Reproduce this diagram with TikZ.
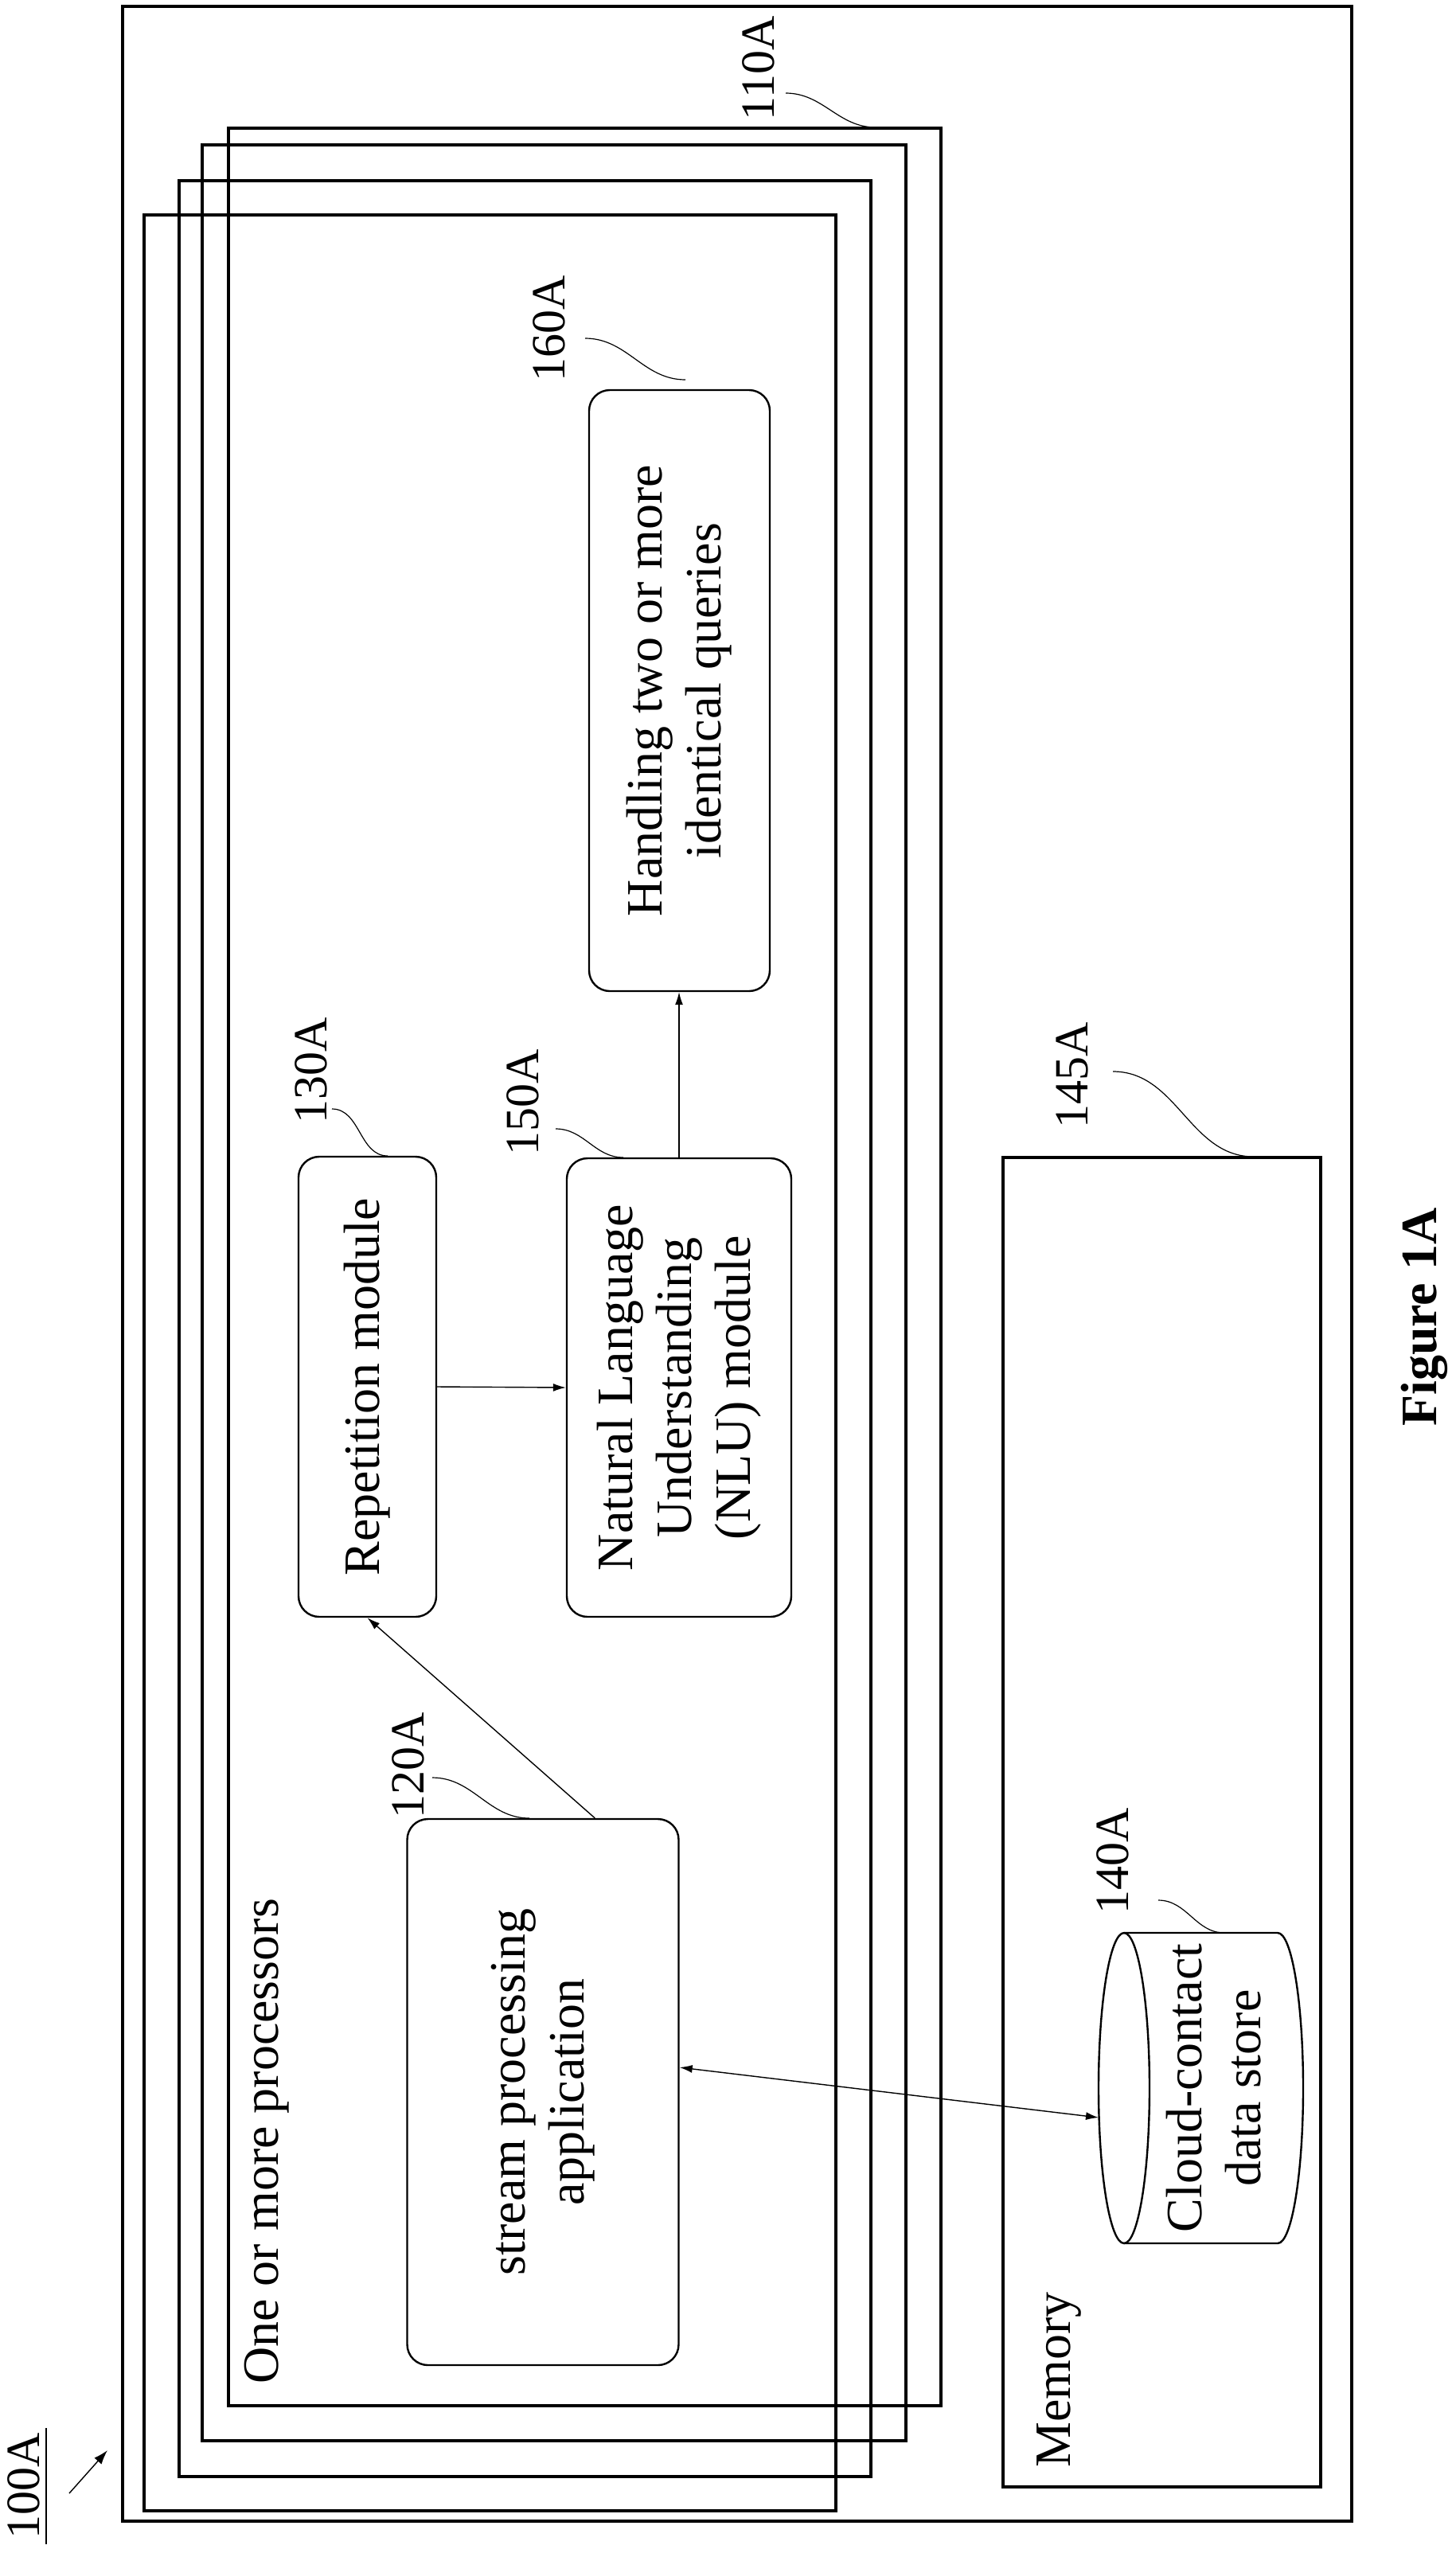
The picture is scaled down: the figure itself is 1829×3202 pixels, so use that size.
\documentclass[tikz,border=0pt]{standalone}
\usepackage{fontspec}
\setmainfont{Liberation Serif}
\usetikzlibrary{arrows.meta,calc}
\begin{document}
\begin{tikzpicture}[x=0.5pt,y=-0.5pt,
  frame/.style={draw,line width=1.6pt},
  rbox/.style={draw,line width=1.2pt,rounded corners=13pt,inner sep=0pt},
  txt/.style={rotate=90,align=center,font=\fontsize{32}{37}\selectfont},
  lbl/.style={rotate=90,anchor=west,inner sep=0pt,font=\fontsize{30}{34}\selectfont},
  squig/.style={line width=0.6pt},
  arr/.style={line width=0.7pt,-{Latex[length=8pt,width=5pt]}},
  darr/.style={line width=0.7pt,{Latex[length=8pt,width=5pt]}-{Latex[length=8pt,width=5pt]}}]
\useasboundingbox (0,0) rectangle (1829,3202);
% outer frame
\draw[frame] (154,8) rectangle (1698,3167);
% stacked processor boxes
\draw[frame] (181,270) rectangle (1050,3154);
\draw[frame] (225,227) rectangle (1094,3111);
\draw[frame] (254,182) rectangle (1138,3066);
\draw[frame] (287,161) rectangle (1182,3022);
% memory box
\node[frame,minimum width=199.5pt,minimum height=835pt,inner sep=0pt] (mem) at (1459.5,2289) {};
% nodes
\node[rbox,minimum width=86.5pt,minimum height=289pt] (rep) at (461.5,1742) {};
\node[txt] (reptxt) at (rep) {Repetition module};
\node[rbox,minimum width=141pt,minimum height=288pt] (nlu) at (853,1743) {};
\node[txt] (nlutxt) at (nlu) {Natural Language\\Understanding\\(NLU) module};
\node[rbox,minimum width=113.5pt,minimum height=377.5pt] (hand) at (853.5,867.5) {};
\node[txt] (handtxt) at (hand) {Handling two or more\\identical queries};
\node[rbox,minimum width=170.5pt,minimum height=343pt] (stream) at (682,2628) {};
\node[txt] (streamtxt) at (stream) {stream processing\\application};
% cylinder
\draw[line width=1.2pt] (1412,2428) -- (1605,2428) arc[start angle=90,end angle=-90,x radius=16pt,y radius=97.5pt] -- (1412,2818);
\draw[line width=1.2pt] (1412,2623) ellipse[x radius=16pt,y radius=97.5pt];
\node[txt,inner sep=0pt] (cyl) at (1525,2623) {Cloud-contact\\data store};
\coordinate (cylw) at (1380,2660);
% connectors
\draw[arr] ($(stream.north west)!0.69!(stream.north east)$) -- (rep.south);
\draw[arr] (rep.east) -- (nlu.west);
\draw[arr] (nlu.north) -- (nlu.north |- hand.south);
\draw[darr] ($(stream.east)+(0,-31)$) -- (cylw);
% texts
\node[lbl,font=\fontsize{32}{37}\selectfont] (proc) at (335,2995) {One or more processors};
\node[lbl,font=\fontsize{32}{37}\selectfont] (memt) at (1330,3100) {Memory};
\node[rotate=90,anchor=east,inner sep=0pt,font=\fontsize{32}{37}\selectfont\bfseries] (fig) at (1789,1517) {Figure 1A};
% reference labels
\node[lbl] (l110) at (953,152) {110A};
\coordinate (s110) at (987,117); \coordinate (e110) at (1100,160);
\draw[squig] (s110) to[out=0,in=180] (e110);
\node[lbl] (l160) at (690,480) {160A};
\coordinate (s160) at (735,425); \coordinate (e160) at (861,477);
\draw[squig] (s160) to[out=0,in=180] (e160);
\node[lbl] (l130) at (391,1412) {130A};
\coordinate (s130) at (417,1393); \coordinate (e130) at (487,1452);
\draw[squig] (s130) to[out=0,in=180] (e130);
\node[lbl] (l150) at (657,1452) {150A};
\coordinate (s150) at (698,1418); \coordinate (e150) at (783,1454);
\draw[squig] (s150) to[out=0,in=180] (e150);
\node[lbl] (l120) at (513,2285) {120A};
\coordinate (s120) at (543,2233); \coordinate (e120) at (665,2284);
\draw[squig] (s120) to[out=0,in=180] (e120);
\node[lbl] (l145) at (1347,1418) {145A};
\coordinate (s145) at (1398,1346); \coordinate (e145) at (1575,1453);
\draw[squig] (s145) to[out=0,in=180] (e145);
\node[lbl] (l140) at (1398,2405) {140A};
\coordinate (s140) at (1455,2387); \coordinate (e140) at (1538,2428);
\draw[squig] (s140) to[out=0,in=180] (e140);
% 100A
\node[lbl] (l100) at (30,3190) {100A};
\draw[line width=1.2pt] (58,3050) -- (58,3196);
\coordinate (a100s) at (87,3132); \coordinate (a100e) at (135,3078);
\draw[line width=0.7pt,-{Latex[length=9pt,width=6pt]}] (a100s) -- (a100e);
\end{tikzpicture}
\end{document}
